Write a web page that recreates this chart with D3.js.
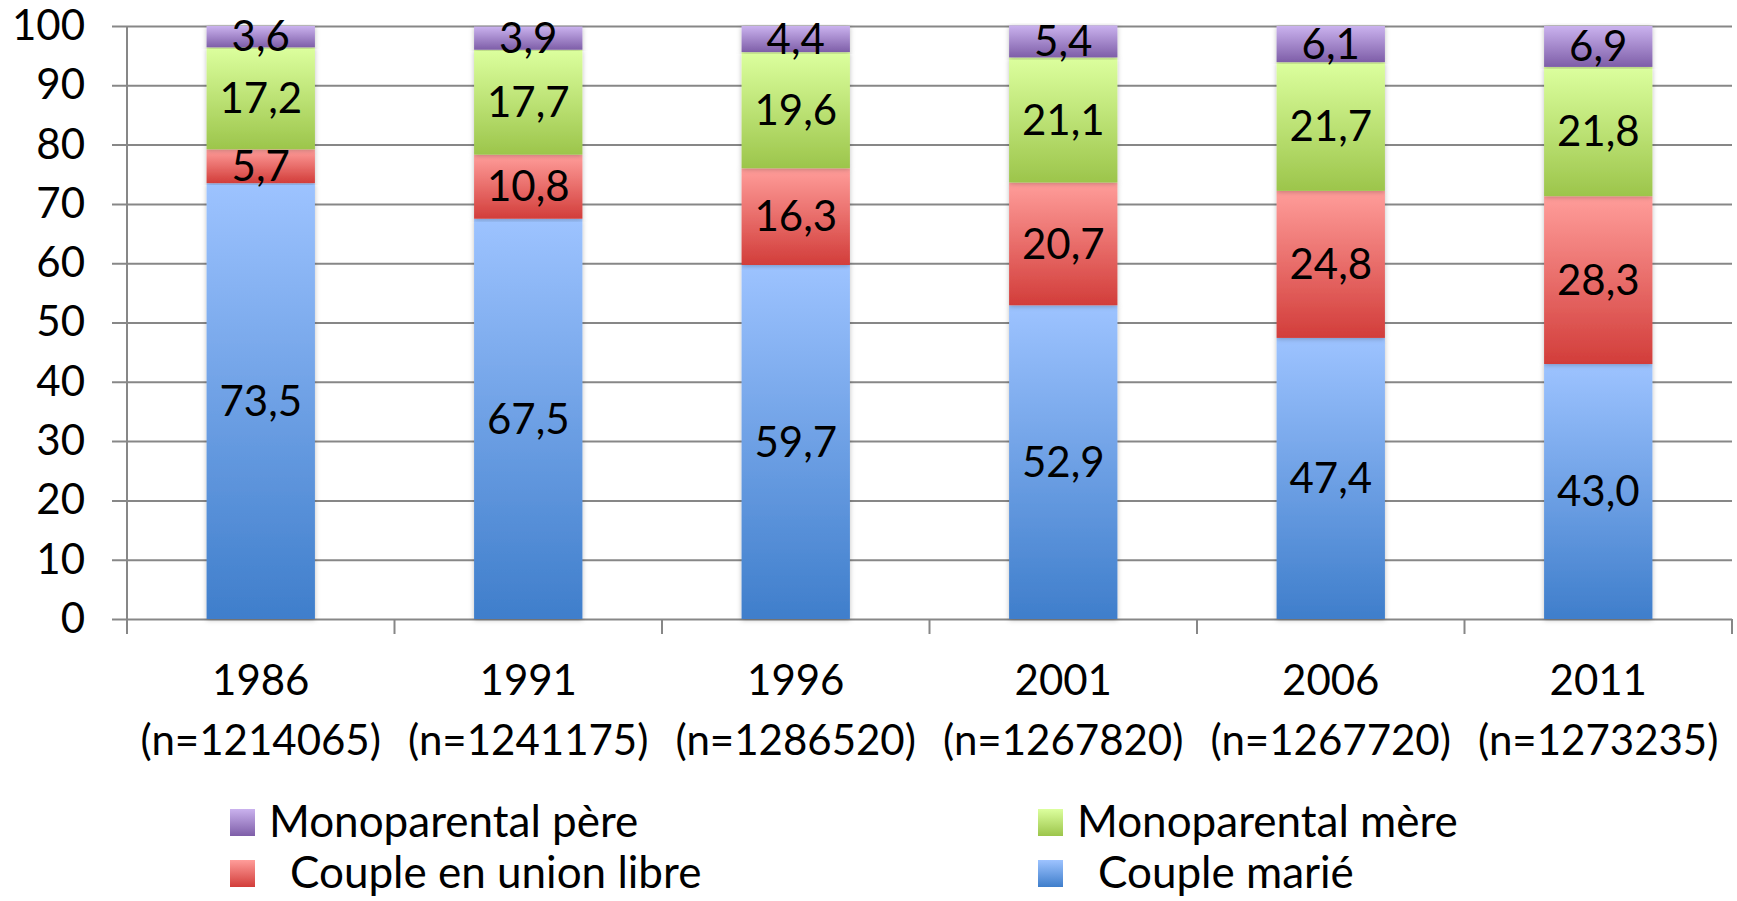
<!DOCTYPE html>
<html>
<head>
<meta charset="utf-8">
<script src="https://cdn.jsdelivr.net/npm/d3@7"></script>
<style>
  body { margin: 0; background: #fff; }
  text { font-family: Lato, "Open Sans", sans-serif; fill: #000; }
</style>
</head>
<body>
<div id="chart"></div>
<script>
// data
var years = ["1986", "1991", "1996", "2001", "2006", "2011"]
var sizes = ["(n=1214065)", "(n=1241175)", "(n=1286520)", "(n=1267820)", "(n=1267720)", "(n=1273235)"]
var marie = [73.5, 67.5, 59.7, 52.9, 47.4, 43.0]
var unionLibre = [5.7, 10.8, 16.3, 20.7, 24.8, 28.3]
var mere = [17.2, 17.7, 19.6, 21.1, 21.7, 21.8]
var pere = [3.6, 3.9, 4.4, 5.4, 6.1, 6.9]
var yTicks = [0, 10, 20, 30, 40, 50, 60, 70, 80, 90, 100]

var seriesNames = ["Couple marié", "Couple en union libre", "Monoparental mère", "Monoparental père"]
var seriesValues = [marie, unionLibre, mere, pere]
var gradients = [
    ["#9dc3ff", "#3f7ecb"],
    ["#ff9d9a", "#d23d3a"],
    ["#dcff9e", "#9cc54b"],
    ["#cab2ee", "#7e5ea8"]
]

var fontSize = 42

var svgWidth = 1737
var svgHeight = 901
var margin = { top: 26, right: 5, bottom: 282, left: 127 }
var chartWidth = svgWidth - margin.left - margin.right
var chartHeight = svgHeight - margin.top - margin.bottom

var svg = d3.select("#chart")
    .append("svg")
    .attr("width", svgWidth)
    .attr("height", svgHeight)

var defs = svg.append("defs")
gradients.forEach((g, i) => {
    var lg = defs.append("linearGradient")
        .attr("id", "grad" + i)
        .attr("x1", 0).attr("y1", 0).attr("x2", 0).attr("y2", 1)
    lg.append("stop").attr("offset", "0%").attr("stop-color", g[0])
    lg.append("stop").attr("offset", "100%").attr("stop-color", g[1])
})
var shadow = defs.append("filter").attr("id", "shadow")
    .attr("x", "-20%").attr("y", "-5%").attr("width", "140%").attr("height", "110%")
shadow.append("feDropShadow")
    .attr("dx", 0).attr("dy", 1).attr("stdDeviation", 2.5)
    .attr("flood-color", "#000").attr("flood-opacity", 0.25)

var chartGroup = svg.append("g")
    .attr("transform", `translate(${margin.left}, ${margin.top})`)

var xScale = d3.scaleBand()
    .domain(years)
    .range([0, chartWidth])
    .paddingInner(0.595)
    .paddingOuter(0.2975)

var yScale = d3.scaleLinear()
    .domain([0, 100])
    .range([chartHeight, 0])

// gridlines + y axis
var yAxis = d3.axisLeft(yScale)
    .tickValues(yTicks)
    .tickSize(-chartWidth)
    .tickPadding(0)
    .tickFormat(d3.format("d"))

var yAxisG = chartGroup.append("g").call(yAxis)
yAxisG.select(".domain").remove()
yAxisG.selectAll(".tick line")
    .attr("x1", -15)
    .attr("stroke", "#878787")
    .attr("stroke-width", 2)
yAxisG.selectAll(".tick text")
    .attr("x", -42)
    .attr("font-size", fontSize)
    .attr("font-family", "Lato, sans-serif")
    .attr("fill", "#000")

chartGroup.append("line")
    .attr("x1", 0).attr("x2", 0)
    .attr("y1", 0).attr("y2", chartHeight + 15)
    .attr("stroke", "#878787")
    .attr("stroke-width", 2)

// category separator ticks below the x axis
chartGroup.append("g")
    .selectAll("line")
    .data(d3.range(1, years.length + 1))
    .enter()
    .append("line")
    .attr("x1", d => d * chartWidth / years.length)
    .attr("x2", d => d * chartWidth / years.length)
    .attr("y1", chartHeight)
    .attr("y2", chartHeight + 15)
    .attr("stroke", "#878787")
    .attr("stroke-width", 2)

// stacked data
var rows = years.map((y, i) => {
    var row = { year: y }
    seriesNames.forEach((s, k) => { row[s] = seriesValues[k][i] })
    return row
})
var stacked = d3.stack().keys(seriesNames)(rows)

var layers = chartGroup.append("g")
    .selectAll("g")
    .data(stacked)
    .enter()
    .append("g")
    .attr("fill", (d, i) => `url(#grad${i})`)

layers.selectAll("rect")
    .data(d => d)
    .enter()
    .append("rect")
    .attr("x", d => xScale(d.data.year))
    .attr("y", d => yScale(d[1]))
    .attr("width", xScale.bandwidth())
    .attr("height", d => yScale(d[0]) - yScale(d[1]))
    .attr("filter", "url(#shadow)")

var fmt = d => d3.format(".1f")(d).replace(".", ",")

chartGroup.append("g")
    .selectAll("g")
    .data(stacked)
    .enter()
    .append("g")
    .selectAll("text")
    .data(d => d.map(p => ({ p: p, key: d.key })))
    .enter()
    .append("text")
    .attr("x", d => xScale(d.p.data.year) + xScale.bandwidth() / 2)
    .attr("y", d => yScale((d.p[0] + d.p[1]) / 2))
    .attr("dy", "0.35em")
    .attr("text-anchor", "middle")
    .attr("font-size", fontSize)
    .text(d => fmt(d.p.data[d.key]))

// x labels (two lines)
var xLab = chartGroup.append("g")
    .selectAll("text")
    .data(years)
    .enter()
    .append("text")
    .attr("text-anchor", "middle")
    .attr("font-size", fontSize)
xLab.append("tspan")
    .attr("x", d => xScale(d) + xScale.bandwidth() / 2)
    .attr("y", chartHeight + 76)
    .text(d => d)
xLab.append("tspan")
    .attr("x", d => xScale(d) + xScale.bandwidth() / 2)
    .attr("y", chartHeight + 136)
    .text((d, i) => sizes[i])

// legend
var legendItems = [
    { name: "Monoparental père", k: 3, col: 0, row: 0, indent: 0 },
    { name: "Monoparental mère", k: 2, col: 1, row: 0, indent: 0 },
    { name: "Couple en union libre", k: 1, col: 0, row: 1, indent: 21 },
    { name: "Couple marié", k: 0, col: 1, row: 1, indent: 21 }
]
var legend = svg.append("g")
    .selectAll("g")
    .data(legendItems)
    .enter()
    .append("g")
    .attr("transform", d => `translate(${d.col === 0 ? 230 : 1038}, ${d.row === 0 ? 822 : 873})`)

legend.append("rect")
    .attr("x", 0)
    .attr("y", -13)
    .attr("width", 25)
    .attr("height", 27)
    .attr("fill", d => `url(#grad${d.k})`)

legend.append("text")
    .attr("x", d => 39 + d.indent)
    .attr("dy", "0.35em")
    .attr("font-size", 44)
    .text(d => d.name)
</script>
</body>
</html>
